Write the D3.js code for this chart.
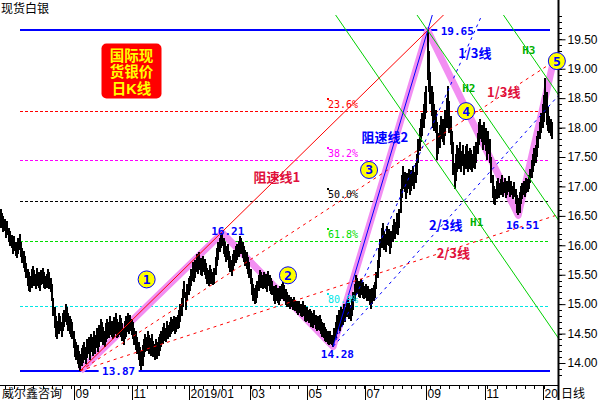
<!DOCTYPE html>
<html><head><meta charset="utf-8">
<script src="https://cdn.jsdelivr.net/npm/d3@7"></script>
<style>body{margin:0;background:#fff}svg{display:block}</style>
</head><body><svg id="c" width="600" height="400"></svg>
<script>
// ---- data (daily bars, spot silver) ----
const hi = [
16.62,16.55,16.50,16.45,16.38,16.42,16.30,16.25,16.18,16.10,
16.15,16.05,16.00,16.12,16.20,16.05,15.95,15.90,15.82,15.70,
15.60,15.55,15.48,15.60,15.65,15.58,15.52,15.62,15.55,15.50,
15.58,15.62,15.55,15.48,15.52,15.60,15.55,15.45,15.35,15.10,
14.95,14.80,14.72,14.85,14.80,14.70,14.85,14.90,15.00,14.95,
14.85,14.80,14.75,14.70,14.55,14.40,14.35,14.30,14.20,14.15,
14.25,14.30,14.35,14.28,14.40,14.45,14.35,14.50,14.45,14.55,
14.48,14.60,14.52,14.65,14.75,14.70,14.62,14.55,14.68,14.75,
14.70,14.80,14.72,14.65,14.78,14.85,14.75,14.70,14.82,14.76,
14.68,14.60,14.72,14.80,14.85,14.78,14.82,14.75,14.70,14.60,
14.55,14.45,14.35,14.28,14.20,14.30,14.40,14.50,14.45,14.55,
14.48,14.42,14.50,14.38,14.32,14.40,14.35,14.45,14.50,14.55,
14.62,14.68,14.60,14.72,14.65,14.70,14.78,14.75,14.80,14.72,
14.78,14.82,14.90,15.00,15.10,15.25,15.40,15.20,15.35,15.45,
15.48,15.60,15.72,15.65,15.75,15.85,15.80,15.88,15.78,15.72,
15.82,15.76,15.70,15.62,15.58,15.66,15.60,15.55,15.62,15.80,
15.95,16.05,16.12,16.18,16.21,16.12,16.05,15.98,16.02,15.90,
15.82,15.75,15.85,15.92,15.98,16.02,16.08,16.15,16.12,16.05,
15.98,15.92,15.88,15.80,15.72,15.60,15.45,15.35,15.28,15.32,
15.40,15.50,15.58,15.55,15.50,15.55,15.52,15.48,15.56,15.50,
15.45,15.40,15.30,15.25,15.32,15.28,15.22,15.30,15.35,15.38,
15.32,15.25,15.20,15.15,15.10,15.12,15.08,15.12,15.05,15.05,
15.02,15.06,15.00,14.98,15.05,14.98,14.92,14.95,14.90,14.92,
14.88,14.85,14.90,14.82,14.78,14.80,14.82,14.75,14.70,14.68,
14.62,14.58,14.55,14.50,14.55,14.48,14.45,14.60,14.70,14.82,
14.90,14.85,14.95,14.92,15.00,14.95,15.05,15.10,15.02,14.98,
15.08,15.20,15.35,15.50,15.45,15.40,15.35,15.42,15.38,15.30,
15.35,15.28,15.30,15.25,15.20,15.28,15.32,15.38,15.55,15.75,
15.95,16.10,16.30,16.38,16.25,16.20,16.32,16.28,16.15,16.25,
16.35,16.45,16.40,16.55,16.50,16.62,16.95,17.20,17.35,17.25,
17.10,17.22,17.30,17.15,17.28,17.35,17.25,17.40,17.55,17.80,
18.00,18.15,18.25,18.40,18.60,18.70,19.65,19.30,18.95,18.70,
18.60,18.40,18.30,18.10,17.90,18.05,18.20,18.15,18.10,18.30,
18.50,18.70,18.45,18.20,17.95,17.75,17.40,17.55,17.70,17.65,
17.75,17.60,17.70,17.55,17.68,17.72,17.60,17.65,17.62,17.55,
17.68,17.60,17.75,17.90,18.10,18.15,18.05,17.95,18.10,18.00,
17.85,17.95,17.80,17.50,17.20,17.00,16.95,17.10,17.15,17.05,
17.12,17.20,17.08,17.15,17.05,17.10,17.18,17.05,17.10,17.00,
17.08,16.95,16.85,16.80,16.90,17.00,17.05,17.10,17.05,17.15,
17.12,17.20,17.30,17.45,17.55,17.65,17.70,17.85,17.95,18.10,
18.25,18.40,18.55,18.85,18.60,18.35,18.20,18.15,18.10];
const lo = [
16.30,16.30,16.22,16.25,16.12,16.18,16.05,15.98,15.95,15.85,
15.90,15.82,15.78,15.85,15.92,15.80,15.70,15.62,15.55,15.45,
15.30,15.22,15.20,15.28,15.35,15.30,15.25,15.30,15.28,15.22,
15.32,15.35,15.28,15.25,15.27,15.30,15.26,15.20,15.05,14.80,
14.60,14.45,14.40,14.50,14.55,14.45,14.55,14.62,14.70,14.65,
14.55,14.50,14.45,14.40,14.25,14.10,14.05,13.98,13.92,13.87,
13.95,14.00,14.05,13.98,14.08,14.15,14.05,14.18,14.12,14.20,
14.15,14.25,14.18,14.28,14.35,14.35,14.30,14.28,14.35,14.40,
14.42,14.48,14.45,14.40,14.45,14.50,14.42,14.45,14.48,14.44,
14.38,14.30,14.40,14.45,14.52,14.50,14.55,14.48,14.40,14.30,
14.22,14.15,14.05,13.95,13.88,13.95,14.10,14.18,14.20,14.25,
14.15,14.12,14.20,14.10,14.05,14.08,14.06,14.12,14.20,14.28,
14.32,14.38,14.35,14.42,14.40,14.45,14.50,14.52,14.55,14.50,
14.52,14.58,14.60,14.70,14.80,14.95,15.10,14.90,15.05,15.15,
15.22,15.30,15.40,15.38,15.45,15.55,15.52,15.58,15.50,15.48,
15.55,15.50,15.42,15.35,15.30,15.38,15.35,15.32,15.35,15.50,
15.65,15.75,15.88,15.95,15.98,15.85,15.80,15.72,15.75,15.62,
15.55,15.48,15.58,15.65,15.70,15.75,15.80,15.88,15.85,15.78,
15.72,15.65,15.60,15.52,15.45,15.35,15.15,15.05,15.00,15.02,
15.10,15.22,15.30,15.28,15.25,15.28,15.25,15.20,15.30,15.22,
15.18,15.15,15.05,15.00,15.05,15.02,14.98,15.05,15.08,15.10,
15.05,14.98,14.95,14.95,14.92,14.95,14.90,14.93,14.88,14.85,
14.82,14.85,14.80,14.78,14.80,14.72,14.70,14.72,14.68,14.68,
14.62,14.60,14.65,14.58,14.55,14.56,14.55,14.50,14.45,14.42,
14.38,14.35,14.32,14.30,14.33,14.30,14.28,14.35,14.42,14.50,
14.60,14.55,14.62,14.65,14.72,14.70,14.78,14.82,14.75,14.72,
14.80,14.90,15.05,15.20,15.18,15.12,15.10,15.15,15.10,15.08,
15.10,15.05,15.05,14.98,14.92,15.00,15.05,15.10,15.25,15.45,
15.62,15.80,15.95,16.05,15.92,15.88,16.00,15.98,15.85,15.95,
16.05,16.12,16.10,16.20,16.18,16.30,16.55,16.80,16.95,16.90,
16.78,16.88,16.95,16.85,16.92,17.00,16.95,17.05,17.20,17.40,
17.60,17.75,17.85,18.00,18.15,18.25,18.80,18.60,18.40,18.20,
18.00,17.95,17.90,17.45,17.55,17.65,17.80,17.75,17.70,17.85,
18.00,18.10,17.90,17.70,17.55,17.20,16.95,17.10,17.25,17.30,
17.35,17.25,17.35,17.20,17.30,17.38,17.25,17.30,17.28,17.25,
17.32,17.30,17.40,17.55,17.70,17.80,17.75,17.62,17.70,17.60,
17.45,17.55,17.40,17.05,16.80,16.70,16.68,16.78,16.82,16.80,
16.85,16.90,16.82,16.88,16.80,16.85,16.90,16.82,16.85,16.78,
16.82,16.70,16.55,16.51,16.55,16.70,16.78,16.85,16.82,16.88,
16.90,16.95,17.05,17.15,17.25,17.35,17.40,17.50,17.65,17.80,
17.90,18.00,18.10,18.25,18.05,17.95,17.90,17.85,17.80];

// x-axis month labels and the bar index where each month starts
const monthLabels = ["09","11","2019/01","03","05","07","09","11","20"];
const monthBars   = [55, 98, 140, 185, 227, 270, 315, 359, 402];
// y-axis tick labels
const yTickLabels = ["14.00","14.50","15.00","15.50","16.00","16.50","17.00","17.50","18.00","18.50","19.00","19.50"];

// Fibonacci retracement of the 13.87 -> 19.65 move
const fibLow = 13.87, fibHigh = 19.65;
const fibLevels = [0.236, 0.382, 0.5, 0.618, 0.809];
const fibLabels = ["23.6%", "38.2%", "50.0%", "61.8%", "80.9%"];

// wave pivots (bar index, price)
const waveBars = [59, 164, 246, 316, 383, 409];
const waveVals = [13.87, 16.21, 14.28, 19.65, 16.51, 19.12];
const waveNums = ["1","2","3","4","5"];
const waveNumBars = [108, 212.6, 272.6, 344.4, 411.6];
const waveNumVals = [15.42, 15.49, 17.28, 18.28, 19.13];

// price labels at pivots
const pivotTexts = ["19.65","13.87","16.21","14.28","16.51"];
const pivotTextBars = [337.9, 87.3, 168, 249.2, 386.2];
const pivotTextVals = [19.64, 13.86, 16.24, 14.15, 16.34];

// speed-resistance fans: [fromBar, fromVal, toBar, toVal]
const fan1 = [59, 13.87, 316, 19.65];   // 阻速线1
const fan2 = [246, 14.28, 316, 19.65];  // 阻速线2

// parallel channel lines H1..H3 (value at anchor bar, slope per bar)
const chanNames = ["H1","H2","H3"];
const chanAnchorBar = 316;
const chanVals = [17.644, 19.65, 21.78];
const chanSlope = -0.0333;
const chanLabelBars = [352.3, 346.4, 390.8];
const chanLabelVals = [16.40, 18.67, 19.31];

// text annotations: [text, bar, value, colour]
const notes = [
  ["阻速线1", 204.3, 17.16, "#e0103c"],
  ["阻速线2", 284.2, 17.84, "#0000ff"],
  ["1/3线", 350.9, 19.27, "#0000ff"],
  ["1/3线", 372.3, 18.61, "#e0103c"],
  ["2/3线", 329.4, 16.34, "#0000ff"],
  ["2/3线", 335.0, 15.87, "#e0103c"]
];
const boxLines = ["国际现", "货银价", "日K线"];

// ---- drawing ----
const svg = d3.select("#c");
const R = 558, B = 385, T = 15;
const x = d3.scaleLinear().domain([0, hi.length - 1]).range([0.7, 552]);
const y = d3.scaleLinear().domain([14, 19.5]).range([363, 39.3]);

svg.append("rect").attr("width", 600).attr("height", 400).attr("fill", "#fff");
const defs = svg.append("defs");
defs.append("clipPath").attr("id", "pc").append("rect")
  .attr("x", 0).attr("y", T).attr("width", R).attr("height", B - T);

const g = svg.append("g").attr("clip-path", "url(#pc)");

// fib lines
const fibColors = ["#ff0000", "#ff00ff", "#000000", "#00dd00", "#00e6e6"];
const fibVals = fibLevels.map(l => fibHigh - l * (fibHigh - fibLow));
g.selectAll("line.fib").data(fibVals).join("line")
  .attr("x1", 20).attr("x2", 550)
  .attr("y1", d => Math.round(y(d)) + 0.5).attr("y2", d => Math.round(y(d)) + 0.5)
  .attr("stroke", (d, i) => fibColors[i]).attr("stroke-width", 1)
  .attr("stroke-dasharray", "3,2");

// blue horizontal lines (high/low) drawn with a gap for the label
const mono = "'DejaVu Sans Mono', monospace";
[[fibHigh, 0], [fibLow, 1]].forEach(([v, k]) => {
  const cx = x(pivotTextBars[k]);
  const yy = Math.round(y(v));
  g.append("line").attr("x1", 20).attr("x2", cx - 20).attr("y1", yy).attr("y2", yy)
    .attr("stroke", "#0000ff").attr("stroke-width", 2);
  g.append("line").attr("x1", cx + 20).attr("x2", 550).attr("y1", yy).attr("y2", yy)
    .attr("stroke", "#0000ff").attr("stroke-width", 2);
});

// pink wave
const wave = waveBars.map((b, i) => [x(b), y(waveVals[i])]);
g.append("path").attr("d", d3.line()(wave)).attr("fill", "none")
  .attr("stroke", "#f28ef2").attr("stroke-width", 7).attr("stroke-linejoin", "round");

// candles
g.append("g").selectAll("rect").data(hi).join("rect")
  .attr("x", (d, i) => x(i) - 1).attr("width", 2)
  .attr("y", d => y(d)).attr("height", (d, i) => Math.max(1, y(lo[i]) - y(d)))
  .attr("fill", "#000").attr("shape-rendering", "crispEdges");

// speed resistance fans
function fan(f, col) {
  const [b0, v0, b1, v1] = f;
  const far = 470;
  [0, 1, 2].forEach(k => {
    const vt = v1 - k * (v1 - v0) / 3;
    const slope = (vt - v0) / (b1 - b0);
    g.append("line")
      .attr("x1", x(b0)).attr("y1", y(v0))
      .attr("x2", x(far)).attr("y2", y(v0 + slope * (far - b0)))
      .attr("stroke", col).attr("stroke-width", 1)
      .attr("stroke-dasharray", k === 0 ? null : "3,4");
  });
}
fan(fan1, "#ff0000");
fan(fan2, "#0000ff");

// channel lines
chanVals.forEach(v => {
  const b0 = 180, b1 = 440;
  g.append("line")
    .attr("x1", x(b0)).attr("y1", y(v + chanSlope * (b0 - chanAnchorBar)))
    .attr("x2", x(b1)).attr("y2", y(v + chanSlope * (b1 - chanAnchorBar)))
    .attr("stroke", "#00d000").attr("stroke-width", 1);
});

// fib labels
fibVals.forEach((v, i) => {
  const yy = Math.round(y(v));
  svg.append("rect").attr("x", 327).attr("y", yy - 13).attr("width", 2).attr("height", 2)
    .attr("fill", fibColors[i]);
  svg.append("text").attr("x", 328).attr("y", yy - 3).text(fibLabels[i])
    .attr("font-family", mono).attr("font-size", 10).attr("fill", fibColors[i]);
});

// pivot price labels
pivotTexts.forEach((t, i) => {
  svg.append("text").attr("x", x(pivotTextBars[i])).attr("y", y(pivotTextVals[i]) + 4)
    .attr("text-anchor", "middle").text(t)
    .attr("font-family", mono).attr("font-weight", "bold").attr("font-size", 11)
    .attr("fill", "#0000ff");
});

// channel labels
chanNames.forEach((t, i) => {
  svg.append("text").attr("x", x(chanLabelBars[i])).attr("y", y(chanLabelVals[i]) + 4)
    .attr("text-anchor", "middle").text(t)
    .attr("font-family", mono).attr("font-weight", "bold").attr("font-size", 11)
    .attr("fill", "#00b000");
});

// notes
const cjk = "'Noto Sans CJK SC', sans-serif";
notes.forEach(([t, b, v, c]) => {
  svg.append("text").attr("x", x(b)).attr("y", y(v) + 5)
    .attr("text-anchor", "middle").text(t)
    .attr("font-family", cjk).attr("font-weight", "bold").attr("font-size", 13)
    .attr("fill", c);
});

// axes
svg.append("line").attr("x1", 0).attr("x2", R).attr("y1", B + 0.5).attr("y2", B + 0.5)
  .attr("stroke", "#000");
svg.append("line").attr("x1", R + 0.5).attr("x2", R + 0.5).attr("y1", 0).attr("y2", 400)
  .attr("stroke", "#000").attr("stroke-width", 2);

// y ticks
const minor = d3.range(138, 202).map(d => d / 10).filter(v => y(v) > T && y(v) < B);
svg.selectAll("line.ym").data(minor).join("line")
  .attr("x1", R + 1).attr("x2", R + 4)
  .attr("y1", d => Math.round(y(d)) + 0.5).attr("y2", d => Math.round(y(d)) + 0.5)
  .attr("stroke", "#000");
const yAx = d3.axisRight(y).tickValues(yTickLabels.map(Number)).tickFormat((d, i) => yTickLabels[i])
  .tickSize(7).tickPadding(2);
const ya = svg.append("g").attr("transform", `translate(${R + 0.5},0)`).call(yAx);
ya.select(".domain").remove();
ya.selectAll("text").attr("font-family", "'Liberation Sans', Arial, sans-serif")
  .attr("font-size", 12).attr("fill", "#000");
ya.selectAll("line").attr("stroke", "#000");

// x ticks
const xMinor = d3.range(3, hi.length, 7);
svg.selectAll("line.xm").data(xMinor).join("line")
  .attr("x1", d => Math.round(x(d)) + 0.5).attr("x2", d => Math.round(x(d)) + 0.5)
  .attr("y1", B + 1).attr("y2", B + 4).attr("stroke", "#000");
monthBars.forEach((b, i) => {
  const xx = Math.round(x(b) - 0.7) + 0.5;
  svg.append("line").attr("x1", xx).attr("x2", xx).attr("y1", B + 1).attr("y2", 400)
    .attr("stroke", "#000");
  svg.append("text").attr("x", xx + 1).attr("y", 398).text(monthLabels[i])
    .attr("font-family", "'Liberation Sans', Arial, sans-serif").attr("font-size", 12)
    .attr("fill", "#000");
});
svg.append("text").attr("x", 561).attr("y", 398).text("日线")
  .attr("font-family", cjk).attr("font-size", 12).attr("fill", "#000");
svg.append("text").attr("x", 2).attr("y", 398).text("威尔鑫咨询")
  .attr("font-family", cjk).attr("font-size", 12).attr("fill", "#000");
svg.append("text").attr("x", 1).attr("y", 13).text("现货白银")
  .attr("font-family", cjk).attr("font-size", 12).attr("fill", "#000");

// title box: primary font with compact line metrics, CJK glyphs fall back to Noto CJK
svg.append("rect").attr("x", 101.5).attr("y", 43.5).attr("width", 60).attr("height", 55)
  .attr("rx", 5).attr("fill", "#ff0000");
boxLines.forEach((t, i) => {
  svg.append("text").attr("x", 131.5).attr("y", 60.5 + i * 16.8).attr("text-anchor", "middle")
    .text(t).attr("font-family", "'Liberation Sans', 'Noto Sans CJK SC', sans-serif")
    .attr("font-weight", "bold").attr("font-size", 14.5).attr("fill", "#ffff00");
});

// wave number circles
waveNums.forEach((t, i) => {
  const cx = x(waveNumBars[i]), cy = y(waveNumVals[i]);
  svg.append("circle").attr("cx", cx).attr("cy", cy).attr("r", 8.5)
    .attr("fill", "#ffff00").attr("stroke", "#0000ff").attr("stroke-width", 1);
  svg.append("text").attr("x", cx).attr("y", cy + 4.5).attr("text-anchor", "middle").text(t)
    .attr("font-family", mono).attr("font-weight", "bold").attr("font-size", 13)
    .attr("fill", "#0000ff");
});
</script></body></html>
